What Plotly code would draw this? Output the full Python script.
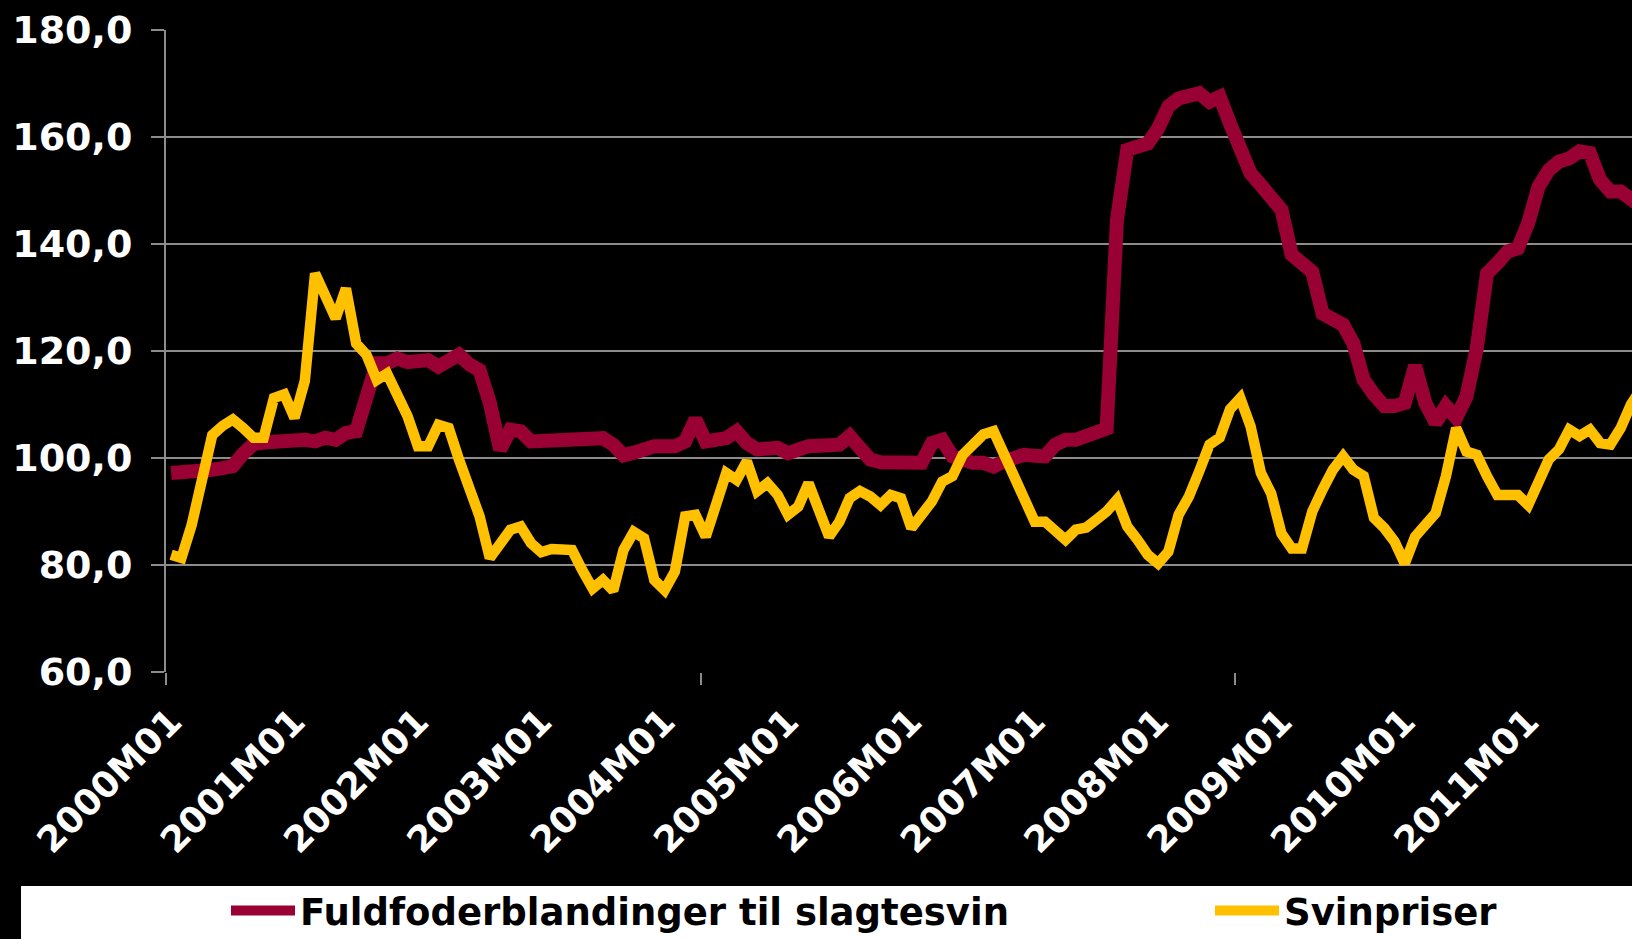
import plotly.graph_objects as go

# ---- data (monthly index, 2000M01 .. 2011M12) ----
years = list(range(2000, 2012))
months = [f"{y}M{m:02d}" for y in years for m in range(1, 13)]

foder = [
    97.2, 97.2, 97.2, 97.5, 97.8, 98.1, 98.5, 100.8, 102.6, 102.9, 103.1, 102.8,
    103.0, 103.4, 103.1, 103.8, 103.4, 104.7, 105.0, 111.0, 117.7, 117.7, 118.6, 117.9,
    118.0, 118.3, 117.1, 118.0, 119.3, 117.5, 116.4, 110.3, 101.6, 105.3, 105.0, 103.1,
    103.1, 103.7, 103.7, 103.7, 103.6, 103.4, 103.7, 102.5, 100.5, 101.0, 101.9, 102.2,
    102.2, 102.2, 103.1, 107.2, 103.1, 103.4, 103.7, 105.0, 102.8, 101.6, 101.8, 101.9,
    100.9, 101.9, 102.2, 102.3, 102.4, 102.5, 104.1, 102.2, 99.7, 99.2, 99.3, 99.4,
    99.3, 99.1, 102.8, 103.4, 100.3, 99.5, 99.1, 99.1, 98.4, 99.4, 100.0, 100.6,
    100.4, 100.3, 102.5, 103.4, 103.4, 104.1, 104.7, 105.5, 144.5, 157.6, 158.2, 158.8,
    161.6, 165.7, 167.2, 167.8, 168.2, 166.6, 167.5, 162.5, 157.0, 153.2, 151.0, 148.2,
    146.4, 138.0, 136.0, 134.8, 127.0, 125.8, 124.9, 121.4, 114.6, 111.9, 109.7, 109.7,
    110.3, 117.2, 110.3, 106.6, 109.7, 107.5, 111.5, 120.5, 134.5, 136.4, 138.6, 139.2,
    143.9, 150.7, 153.8, 155.4, 156.0, 157.3, 157.0, 152.0, 149.8, 149.8, 148.2, 147.0,
]

svin = [
    81.9, 81.3, 87.5, 95.5, 104.3, 106.0, 107.2, 105.6, 103.8, 103.8, 111.2, 111.9,
    107.5, 114.4, 134.5, 130.3, 126.1, 131.7, 121.4, 119.3, 114.6, 115.8, 111.6, 107.8,
    102.2, 102.2, 106.2, 105.6, 99.7, 94.7, 89.1, 81.3, 83.8, 86.6, 87.2, 84.1,
    82.4, 83.0, 82.9, 82.8, 79.0, 75.6, 77.2, 75.2, 82.8, 86.2, 85.0, 77.2,
    75.3, 78.8, 89.1, 89.4, 85.3, 91.6, 97.2, 95.9, 99.4, 93.8, 95.3, 93.1,
    89.4, 90.9, 95.3, 90.3, 85.3, 88.1, 92.5, 93.8, 92.8, 91.2, 93.1, 92.5,
    86.9, 89.4, 91.9, 95.6, 96.6, 100.6, 102.2, 104.4, 105.0, 101.0, 97.0, 92.8,
    88.1, 88.1, 86.6, 84.7, 86.6, 87.0, 88.5, 90.0, 92.2, 87.2, 84.7, 81.9,
    80.3, 82.5, 89.4, 92.8, 97.5, 102.5, 103.8, 109.1, 111.2, 105.9, 97.2, 93.4,
    85.9, 83.1, 83.1, 90.0, 94.1, 97.8, 100.3, 97.8, 96.6, 88.8, 86.9, 84.4,
    80.3, 85.3, 87.5, 89.7, 96.6, 105.6, 101.2, 100.6, 96.6, 93.1, 93.1, 93.1,
    91.2, 95.6, 99.7, 101.6, 105.3, 104.1, 105.3, 102.8, 102.5, 105.6, 110.0, 113.0,
]

series_names = ["Fuldfoderblandinger til slagtesvin", "Svinpriser"]
series_colors = ["#990033", "#FFC000"]

label_step = 12
tick_mark_step = 52

idx = list(range(len(months)))
label_vals = idx[::label_step]
label_text = months[::label_step]
tick_mark_vals = [v - 0.5 for v in idx[::tick_mark_step]]

GRID = "#8C8C8C"
FONT = "DejaVu Sans"
x_range = [-0.5, 142.1]

fig = go.Figure()
fig.add_trace(go.Scatter(x=idx, y=foder, mode="lines", name=series_names[0],
                         line=dict(color=series_colors[0], width=14), hoverinfo="skip",
                         legend="legend"))
fig.add_trace(go.Scatter(x=idx, y=svin, mode="lines", name=series_names[1],
                         line=dict(color=series_colors[1], width=10.5), hoverinfo="skip",
                         legend="legend2"))
fig.add_trace(go.Scatter(x=[], y=[], xaxis="x2", showlegend=False, hoverinfo="skip"))

legend_common = dict(
    orientation="h", xref="container", yref="container",
    xanchor="left", y=(939 - 911) / 939, yanchor="middle",
    bgcolor="rgba(0,0,0,0)", itemwidth=64,
    font=dict(family=FONT, size=37, color="black", weight="bold"),
)

fig.update_layout(
    width=1632, height=939,
    paper_bgcolor="black", plot_bgcolor="black",
    margin=dict(l=166, r=0, t=30, b=267),
    separators=",.",
    font=dict(family=FONT, color="white"),
    xaxis=dict(
        range=x_range, tickmode="array", tickvals=label_vals, ticktext=label_text,
        tickangle=-45, ticks="", showgrid=False, zeroline=False, showline=False,
        tickfont=dict(family=FONT, size=36, color="white", weight="bold"),
        ticklabelstandoff=20,
    ),
    xaxis2=dict(
        overlaying="x", anchor="y", side="bottom", range=x_range,
        tickmode="array", tickvals=tick_mark_vals, ticks="outside", ticklen=12,
        tickwidth=2, tickcolor=GRID, showticklabels=False, showgrid=False,
        zeroline=False, showline=False,
    ),
    yaxis=dict(
        range=[60, 180], dtick=20, tick0=60, tickformat=".1f",
        showgrid=True, gridcolor=GRID, gridwidth=2, zeroline=False,
        showline=True, linecolor=GRID, linewidth=2,
        ticks="outside", ticklen=13, tickwidth=2, tickcolor=GRID,
        tickfont=dict(family=FONT, size=38, color="white", weight="bold"),
        ticklabelstandoff=11,
    ),
    showlegend=True,
    legend=dict(legend_common, x=226 / 1632),
    legend2=dict(legend_common, x=1210 / 1632),
    shapes=[dict(
        type="rect", xref="paper", yref="paper",
        x0=(21 - 166) / 1466, x1=1.0, y0=(672 - 945) / 642, y1=(672 - 886) / 642,
        fillcolor="white", line=dict(width=0), layer="above",
    )],
)

fig.write_html("out.html", config={"displayModeBar": False},
               post_script="document.body.style.margin='0';")
